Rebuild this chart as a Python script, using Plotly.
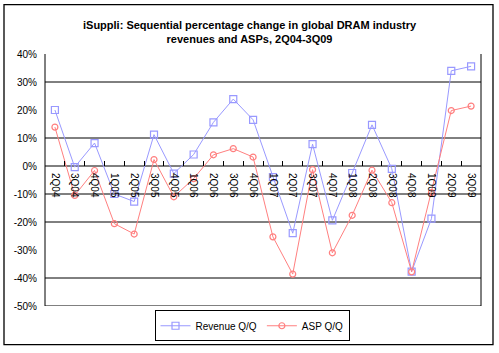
import plotly.graph_objects as go

quarters = ["2Q04", "3Q04", "4Q04", "1Q05", "2Q05", "3Q05", "4Q05", "1Q06", "2Q06", "3Q06", "4Q06",
            "1Q07", "2Q07", "3Q07", "4Q07", "1Q08", "2Q08", "3Q08", "4Q08", "1Q09", "2Q09", "3Q09"]
revenue_qq = [20.0, -0.4, 8.2, -10.0, -12.7, 11.2, -2.7, 4.1, 15.6, 23.9, 16.5,
              -4.0, -24.0, 7.8, -19.4, -2.5, 14.7, -1.0, -37.7, -18.8, 34.0, 35.6]
asp_qq = [13.9, -10.5, -1.6, -20.6, -24.3, 2.3, -11.0, -4.5, 4.0, 6.2, 3.2,
          -25.3, -38.6, -1.3, -31.0, -17.6, -1.5, -13.1, -37.8, -9.5, 19.8, 21.4]
y_ticks = [40, 30, 20, 10, 0, -10, -20, -30, -40, -50]
y_tick_text = ["40%", "30%", "20%", "10%", "0%", "-10%", "-20%", "-30%", "-40%", "-50%"]
title_text = "<b>iSuppli: Sequential percentage change in global DRAM industry<br>revenues and ASPs, 2Q04-3Q09</b>"

grid_levels = [30, 10, 0, -10, -20, -40, -50]

W, H = 499, 353
ML, MR, MT, MB = 45, 18, 54, 44
PW = W - ML - MR
PH = H - MT - MB


def px_x(x):
    return (x - ML) / PW


def px_y(y):
    return (H - MB - y) / PH


fig = go.Figure()
fig.add_trace(go.Scatter(
    x=quarters, y=revenue_qq, name="Revenue Q/Q", mode="lines+markers",
    line=dict(color="#9999FF", width=1),
    marker=dict(symbol="square-open", size=7, color="#9999FF", line=dict(width=1.2)),
))
fig.add_trace(go.Scatter(
    x=quarters, y=asp_qq, name="ASP Q/Q", mode="lines+markers",
    line=dict(color="#FF7F7F", width=1),
    marker=dict(symbol="circle-open", size=6, color="#FF7F7F", line=dict(width=1.2)),
))

shapes = []
for g in grid_levels:
    shapes.append(dict(type="line", xref="paper", yref="y", x0=0, x1=1, y0=g, y1=g,
                       line=dict(color="black", width=1), layer="below"))
for xv in (0, 1):
    shapes.append(dict(type="line", xref="paper", yref="y", x0=xv, x1=xv, y0=-50, y1=40,
                       line=dict(color="black", width=1), layer="below"))
# outer chart border
shapes.append(dict(type="rect", xref="paper", yref="paper",
                   x0=px_x(4), x1=px_x(493), y0=px_y(348), y1=px_y(4),
                   line=dict(color="black", width=1.3), fillcolor="rgba(0,0,0,0)"))

fig.update_layout(
    width=W, height=H,
    margin=dict(l=ML, r=MR, t=MT, b=MB, pad=0),
    paper_bgcolor="white", plot_bgcolor="white",
    font=dict(family="Liberation Sans, Arial, sans-serif", size=10, color="black"),
    annotations=[dict(
        text=title_text, xref="paper", yref="paper",
        x=px_x(250), y=px_y(31.5), xanchor="center", yanchor="middle",
        showarrow=False, font=dict(size=11, color="black"),
    )],
    xaxis=dict(
        type="category", range=[-0.5, len(quarters) - 0.5],
        anchor="free", position=50 / 90,
        showgrid=False, showline=False, zeroline=False,
        ticks="inside", ticklen=5, tickcolor="black", tickwidth=1,
        tickson="boundaries", tickangle=90, ticklabelstandoff=6,
        tickfont=dict(size=10),
    ),
    yaxis=dict(
        range=[-50, 40], tickvals=y_ticks, ticktext=y_tick_text,
        showgrid=False, zeroline=False, showline=False,
        ticks="", ticklabelstandoff=7, tickfont=dict(size=10),
    ),
    legend=dict(
        orientation="h", x=px_x(252), y=px_y(329), xanchor="center", yanchor="middle",
        bordercolor="black", borderwidth=1, bgcolor="white",
        font=dict(size=10), itemwidth=30, tracegroupgap=0,
    ),
    shapes=shapes,
    showlegend=True,
)

fig.write_html("out.html")
